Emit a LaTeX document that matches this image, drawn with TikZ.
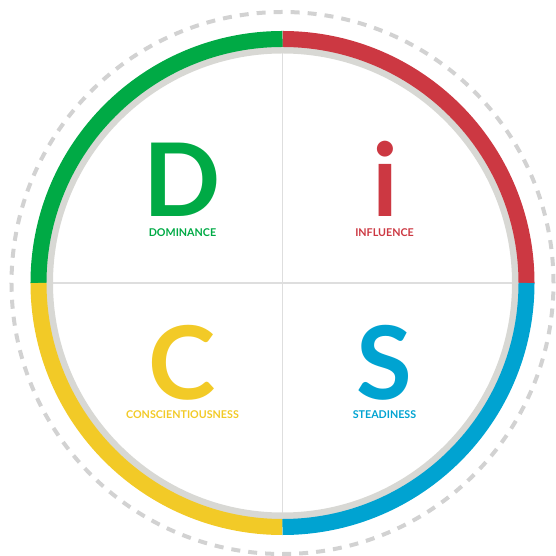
\documentclass[tikz,border=0pt]{standalone}
\usepackage{fontspec}
\setmainfont{Lato}
\definecolor{discgreen}{HTML}{00AA45}
\definecolor{discred}{HTML}{CC3842}
\definecolor{discyellow}{HTML}{F2CA27}
\definecolor{discblue}{HTML}{00A3D1}
\definecolor{ringgray}{HTML}{D8D8D4}
\definecolor{dashgray}{HTML}{D2D2D2}
\definecolor{linegray}{HTML}{DEDEDE}
\tikzset{
  letter/.style={anchor=base,inner sep=0pt,font=\fontsize{57.8}{60}\selectfont\bfseries},
  label/.style={anchor=base,inner sep=0pt,font=\fontsize{6.1}{7}\selectfont\bfseries},
  arcseg/.style={line width=.32cm},
}
\begin{document}
\begin{tikzpicture}
  \useasboundingbox (-5.65,-5.46) rectangle (5.47,5.66);
  % outer dashed ring
  \draw[dashgray,line width=.08cm,dash pattern=on .18cm off .1605cm] (0,0) circle (5.42);
  % quadrant lines
  \draw[linegray,line width=.03cm] (-4.6,0) -- (4.6,0);
  \draw[linegray,line width=.03cm] (0,-4.6) -- (0,4.6);
  % gray ring inside the coloured one
  \draw[ringgray,line width=.14cm] (0,0) circle (4.66);
  % coloured quarters
  \draw[arcseg,discred]    (4.88,0)  arc (0:90:4.88);
  \draw[arcseg,discgreen]  (0,4.88)  arc (90:180:4.88);
  \draw[arcseg,discyellow] (-4.88,0) arc (180:270:4.88);
  \draw[arcseg,discblue]   (0,-4.88) arc (270:360:4.88);
  % letters and their names
  \node[letter,text=discgreen]  (D)    at (-2.0,1.32)   {D};
  \node[label,text=discgreen]   (Dlab) at (-2.0,0.92)   {DOMINANCE};
  \node[letter,text=discred]    (I)    at (2.05,1.32)   {i};
  \node[label,text=discred]     (Ilab) at (2.04,0.92)   {INFLUENCE};
  \node[letter,text=discyellow] (C)    at (-2.0,-2.32)  {C};
  \node[label,text=discyellow]  (Clab) at (-2.0,-2.72)  {CONSCIENTIOUSNESS};
  \node[letter,text=discblue]   (S)    at (2.04,-2.32)  {S};
  \node[label,text=discblue]    (Slab) at (2.04,-2.72)  {STEADINESS};
\end{tikzpicture}
\end{document}
